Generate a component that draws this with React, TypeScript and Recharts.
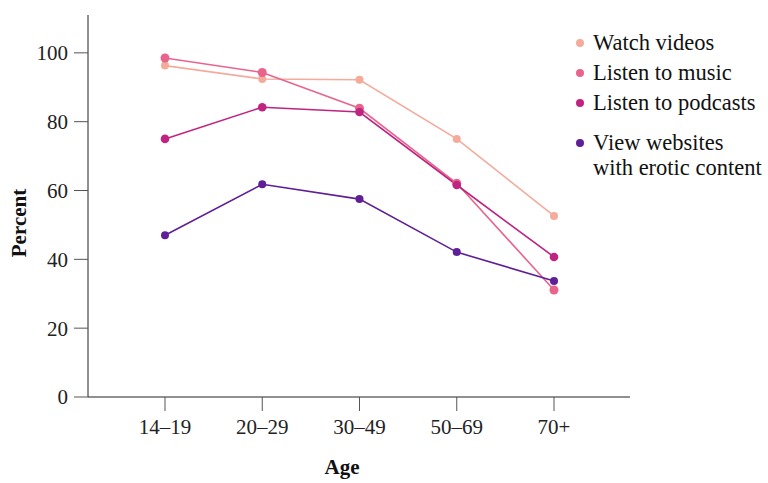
import { Label, Line, LineChart, XAxis, YAxis } from 'recharts'

const ages = ['14–19', '20–29', '30–49', '50–69', '70+']
const watchVideos = [96.3, 92.4, 92.2, 75.0, 52.6]
const listenMusic = [98.5, 94.3, 83.9, 62.1, 31.1]
const listenPodcasts = [75.0, 84.2, 82.8, 61.6, 40.7]
const eroticSites = [47.0, 61.8, 57.5, 42.1, 33.7]
const yTicks = [0, 20, 40, 60, 80, 100]

const series = [
  { key: 'videos', name: 'Watch videos', color: '#f4ab9c', r: 4, values: watchVideos },
  { key: 'music', name: 'Listen to music', color: '#e9648c', r: 4.5, values: listenMusic },
  { key: 'podcasts', name: 'Listen to podcasts', color: '#bf2481', r: 4.3, values: listenPodcasts },
  { key: 'erotic', name: 'View websites|with erotic content', color: '#5f1f96', r: 4, values: eroticSites },
]

const data = ages.map((age, i) => {
  const row: Record<string, string | number> = { age }
  series.forEach((s) => (row[s.key] = s.values[i]))
  return row
})

const font = '"Liberation Serif", serif'
const tick = { fill: '#222', fontSize: 21, fontFamily: font }

function Legend() {
  let top = 30
  return (
    <div style={{ position: 'absolute', left: 574, top: 0, fontFamily: font, fontSize: 22.5, color: '#111' }}>
      {series.map((s, i) => {
        const lines = s.name.split('|')
        const y = top + (i === 3 ? 10 : 0)
        top = y + 30
        return (
          <div key={s.key} style={{ position: 'absolute', top: y, left: 0, whiteSpace: 'nowrap', lineHeight: '25px' }}>
            <span
              style={{
                position: 'absolute', left: 2, top: 9, width: 8, height: 8,
                borderRadius: '50%', background: s.color,
              }}
            />
            <div style={{ marginLeft: 19 }}>
              {lines.map((l) => (
                <div key={l}>{l}</div>
              ))}
            </div>
          </div>
        )
      })}
    </div>
  )
}

export default function App() {
  return (
    <div style={{ position: 'absolute', left: 0, top: 0, width: 768, height: 483, background: '#fff' }}>
      <LineChart width={768} height={483} data={data} margin={{ top: 15, right: 138, bottom: 0, left: 0 }}>
        <XAxis
          dataKey="age"
          scale="point"
          padding={{ left: 77, right: 76 }}
          tick={tick}
          tickSize={14}
          tickMargin={8}
          stroke="#222"
          tickLine={{ stroke: '#555' }}
          height={86}
        >
          <Label
            content={() => (
              <text x={342} y={474} textAnchor="middle" fontFamily={font} fontSize={21} fontWeight="bold" fill="#111">
                Age
              </text>
            )}
          />
        </XAxis>
        <YAxis
          domain={[0, 111]}
          ticks={yTicks}
          tick={tick}
          tickSize={14}
          tickMargin={6}
          width={88}
          stroke="#222"
          tickLine={{ stroke: '#555' }}
          allowDataOverflow
        >
          <Label
            content={() => (
              <text
                x={19}
                y={223}
                transform="rotate(-90, 19, 223)"
                textAnchor="middle"
                dominantBaseline="central"
                fontFamily={font}
                fontSize={21}
                fontWeight="bold"
                fill="#111"
              >
                Percent
              </text>
            )}
          />
        </YAxis>
        {series.map((s) => (
          <Line
            key={s.key}
            dataKey={s.key}
            name={s.name}
            type="linear"
            stroke={s.color}
            strokeWidth={1.6}
            dot={{ r: s.r, fill: s.color, stroke: 'none' }}
            activeDot={false}
            isAnimationActive={false}
          />
        ))}
      </LineChart>
      <Legend />
    </div>
  )
}
